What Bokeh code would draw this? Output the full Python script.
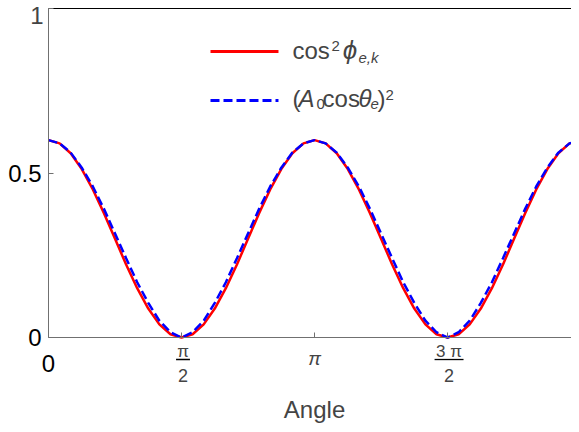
from bokeh.plotting import figure
from bokeh.models import FixedTicker, Label, Arrow, Range1d, LinearAxis
from bokeh.embed import file_html
from bokeh.resources import INLINE

# ---- data (x in degrees, 0..360) ----
angle_deg = [0, 7.5, 15, 22.5, 30, 37.5, 45, 52.5, 60, 67.5, 75, 82.5, 90,
             97.5, 105, 112.5, 120, 127.5, 135, 142.5, 150, 157.5, 165, 172.5, 180,
             187.5, 195, 202.5, 210, 217.5, 225, 232.5, 240, 247.5, 255, 262.5, 270,
             277.5, 285, 292.5, 300, 307.5, 315, 322.5, 330, 337.5, 345, 352.5, 360]
cos2_phi = [0.600, 0.590, 0.560, 0.512, 0.450, 0.378, 0.300, 0.222, 0.150, 0.088, 0.040, 0.010, 0.000,
            0.010, 0.040, 0.088, 0.150, 0.222, 0.300, 0.378, 0.450, 0.512, 0.560, 0.590, 0.600,
            0.590, 0.560, 0.512, 0.450, 0.378, 0.300, 0.222, 0.150, 0.088, 0.040, 0.010, 0.000,
            0.010, 0.040, 0.088, 0.150, 0.222, 0.300, 0.378, 0.450, 0.512, 0.560, 0.590, 0.600]
a0_cos_theta_sq = [0.600, 0.590, 0.562, 0.516, 0.459, 0.391, 0.316, 0.241, 0.168, 0.105, 0.051, 0.016, 0.000,
                   0.016, 0.051, 0.105, 0.168, 0.241, 0.316, 0.391, 0.459, 0.516, 0.562, 0.590, 0.600,
                   0.590, 0.562, 0.516, 0.459, 0.391, 0.316, 0.241, 0.168, 0.105, 0.051, 0.016, 0.000,
                   0.016, 0.051, 0.105, 0.168, 0.241, 0.316, 0.391, 0.459, 0.516, 0.562, 0.590, 0.600]

x_ticks = [0, 90, 180, 270]
x_tick_labels = {0: "0", 90: " ", 180: " ", 270: " "}
pi_tick = 180
pi_label = "π"
frac_ticks = [90, 270]
frac_numerators = ["π", "3 π"]
frac_denominator = "2"
y_ticks = [0, 0.5, 1]
y_tick_labels = {0: "0", 0.5: "0.5", 1: " "}
y_top_label = "1"
x_title = "Angle"

FONT = "Liberation Sans"
AX_COL = "#707070"

# frame fills the whole canvas; axes are placed at fixed data positions
p = figure(width=571, height=424, output_backend="svg", toolbar_location=None,
           x_range=Range1d(-32.48, 353.85), y_range=Range1d(-0.2644, 1.0243),
           x_axis_location=None, y_axis_location=None, min_border=0)
p.outline_line_color = None
p.xgrid.visible = False
p.ygrid.visible = False
p.background_fill_color = "white"

p.line(angle_deg, cos2_phi, line_color="red", line_width=2.5)
p.line(angle_deg, a0_cos_theta_sq, line_color="blue", line_width=2.5, line_dash="9 4")

xaxis = LinearAxis(fixed_location=0, bounds=(0, 360), ticker=FixedTicker(ticks=x_ticks),
                   major_label_overrides=x_tick_labels)
yaxis = LinearAxis(fixed_location=0, bounds=(0, 1), ticker=FixedTicker(ticks=y_ticks),
                   major_label_overrides=y_tick_labels)
for ax in (xaxis, yaxis):
    ax.axis_line_color = AX_COL
    ax.major_tick_line_color = AX_COL
    ax.minor_tick_line_color = None
    ax.major_tick_in = 5
    ax.major_tick_out = 0
    ax.major_label_text_font = FONT
    ax.major_label_text_font_size = "24px"
    ax.major_label_text_color = "black"
xaxis.major_label_standoff = 12
yaxis.major_label_standoff = 7
p.add_layout(xaxis, "below")
p.add_layout(yaxis, "left")

topaxis = LinearAxis(fixed_location=1, bounds=(0, 360), ticker=FixedTicker(ticks=[]),
                     axis_line_color="black", major_tick_line_color=None,
                     minor_tick_line_color=None, major_label_text_font_size="0px")
p.add_layout(topaxis, "above")

# top y tick label kept fully inside the canvas
p.add_layout(Label(x=-3.38, y=1.0058, text=y_top_label, text_font=FONT, text_font_size="24px",
                   text_align="right", text_baseline="top"))

# pi tick label, fraction tick labels and axis title
p.add_layout(Label(x=pi_tick, y=-0.0629, text=pi_label, text_font=FONT, text_font_size="19px",
                   text_font_style="italic", text_align="center", text_baseline="alphabetic"))
half_w = [4.7, 9.8]
for t, num, hw in zip(frac_ticks, frac_numerators, half_w):
    p.add_layout(Label(x=t + 1, y=-0.0432, text=num, text_font=FONT, text_font_size="17px",
                       text_align="center", text_baseline="alphabetic"))
    p.add_layout(Label(x=t + 1, y=-0.1155, text=frac_denominator, text_font=FONT, text_font_size="18px",
                       text_align="center", text_baseline="alphabetic"))
    p.add_layout(Arrow(x_start=t + 1 - hw, y_start=-0.0669, x_end=t + 1 + hw, y_end=-0.0669,
                       start=None, end=None, line_color="black", line_width=1.3))
p.add_layout(Label(x=180, y=-0.2198, text=x_title, text_font=FONT, text_font_size="24px",
                   text_align="center", text_baseline="alphabetic"))

# legend
p.add_layout(Arrow(x_start=109.6, y_start=0.8693, x_end=155.6, y_end=0.8693, start=None, end=None,
                   line_color="red", line_width=3))
p.add_layout(Arrow(x_start=109.6, y_start=0.7204, x_end=155.6, y_end=0.7204, start=None, end=None,
                   line_color="blue", line_width=3, line_dash="9 4"))

def lab(x, y, text, size, style="normal"):
    p.add_layout(Label(x=x, y=y, text=text, text_font=FONT, text_font_size=size,
                       text_font_style=style, text_baseline="alphabetic"))

# line 1: cos^2 phi_{e,k}
lab(165.1, 0.8714, "cos", "24px")
lab(191.5, 0.8851, "2", "15px")
lab(199.0, 0.8733, "ϕ", "26px", "italic")
lab(209.7, 0.8517, "e,k", "15px", "italic")
# line 2: (A_0 cos theta_e)^2
lab(165.1, 0.7255, "(", "24px")
lab(169.2, 0.7255, "A", "24px", "italic")
lab(181.4, 0.7088, "0", "15px")
lab(185.4, 0.7255, "cos", "24px")
lab(209.8, 0.7255, "θ", "24px", "italic")
lab(217.9, 0.7088, "e", "15px", "italic")
lab(222.6, 0.7255, ")", "24px")
lab(228.0, 0.7362, "2", "15px")

open("out.html", "w").write(file_html(p, INLINE))
